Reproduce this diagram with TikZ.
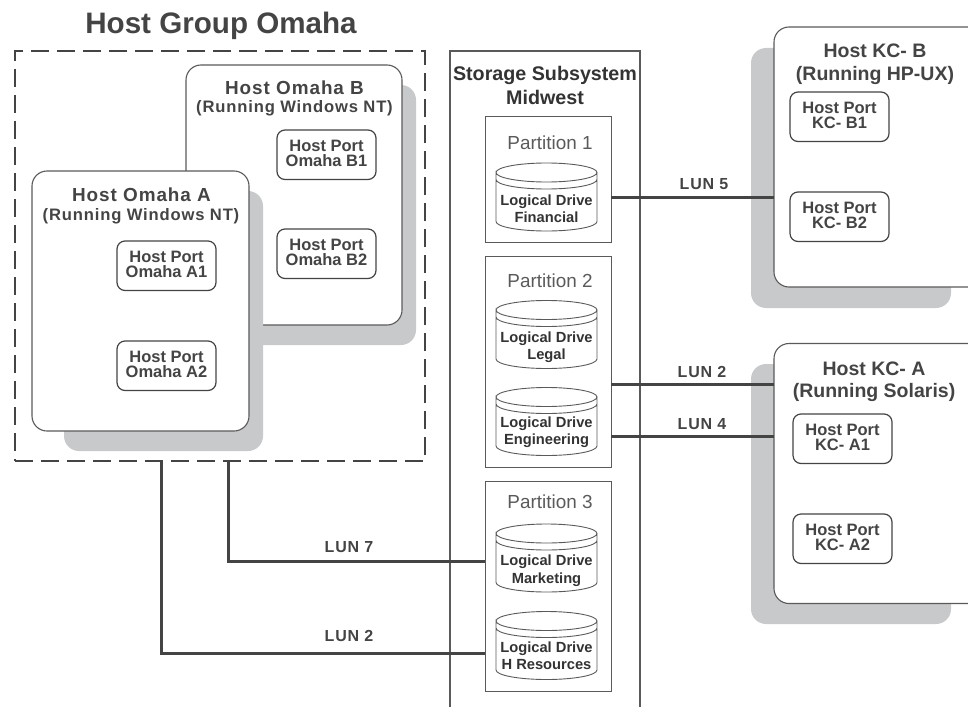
\documentclass[tikz,border=0pt]{standalone}
\usepackage{fontspec}
\setmainfont{Liberation Sans}
\newfontfamily\spacedfont[LetterSpace=5]{Liberation Sans}
\definecolor{inkgray}{HTML}{444444}
\definecolor{edgegray}{HTML}{5A5A5A}
\definecolor{shadowgray}{HTML}{C8C9CB}
\tikzset{
  every node/.style={inner sep=0pt,outer sep=0pt},
  hostbox/.style={draw=edgegray,line width=1.1pt,fill=white,rounded corners=15pt,minimum width=217pt,minimum height=260pt,anchor=north west},
  hostshadow/.style={fill=shadowgray,rounded corners=15pt,anchor=north west},
  portbox/.style={draw=inkgray,line width=1.2pt,fill=white,rounded corners=8pt,minimum width=99pt,minimum height=49.5pt,anchor=north west,align=center,text=inkgray,text depth=3pt,font=\bfseries\fontsize{16.5}{15}\selectfont},
  partbox/.style={draw=edgegray,line width=1pt,minimum width=126pt,anchor=north west},
  drivecyl/.style={minimum width=101pt,minimum height=68pt},
  drivering/.style={edgegray,line width=0.9pt},
  drivepath/.style={insert path={
    ([yshift=-9.5pt]#1.north west) arc[start angle=180,end angle=-180,x radius=50.5pt,y radius=9.5pt]
    -- ++(0,-49pt) arc[start angle=180,end angle=360,x radius=50.5pt,y radius=9.5pt] -- ++(0,49pt)
    ([yshift=-16.5pt]#1.north west) arc[start angle=180,end angle=360,x radius=50.5pt,y radius=9.5pt]}},
  drivetext/.style={align=center,text=black!80,font=\bfseries\fontsize{14.7}{17.5}\selectfont},
  parttext/.style={text=edgegray,font=\fontsize{18.9}{19}\selectfont},
  omahatext/.style={align=center,text=inkgray,font=\spacedfont\bfseries\fontsize{16.6}{20}\selectfont},
  omahaname/.style={text=inkgray,font=\spacedfont\bfseries\fontsize{18.9}{20}\selectfont},
  kctext/.style={align=center,text=inkgray,font=\bfseries\fontsize{19.5}{22.5}\selectfont},
  lunlabel/.style={text=inkgray,font=\spacedfont\bfseries\fontsize{16}{16}\selectfont},
  lunline/.style={draw=inkgray,line width=3pt},
}
\begin{document}
\begin{tikzpicture}[x=1pt,y=-1pt]
\useasboundingbox (0,0) rectangle (968,706);
\draw[](221,26) node[text=inkgray,font=\bfseries\fontsize{29.6}{30}\selectfont] (grouptitle) {Host Group Omaha};
\node[draw=inkgray,line width=2pt,dash pattern=on 18pt off 8pt,minimum width=410pt,minimum height=410pt,anchor=north west] (group) at (15,51) {};
\node[hostshadow,minimum width=216pt,minimum height=260pt] (omahabshadow) at (200,85) {};
\node[hostbox,minimum width=216pt] (omahab) at (186,65) {};
\node[hostshadow,minimum width=199pt,minimum height=260pt] (omahaashadow) at (64,191) {};
\node[hostbox] (omahaa) at (32,171) {};
\draw[](294.5,88) node[omahaname] (omahabname) {Host Omaha B};
\draw[](294.5,108) node[omahatext] (omahabrun) {(Running Windows NT)};
\draw[](141.5,195) node[omahaname] (omahaaname) {Host Omaha A};
\draw[](141,216) node[omahatext] (omahaarun) {(Running Windows NT)};
\node[portbox] (portbone) at (277,130) {Host Port\\Omaha B1};
\node[portbox] (portbtwo) at (277,229) {Host Port\\Omaha B2};
\node[portbox] (portaone) at (117,241) {Host Port\\Omaha A1};
\node[portbox] (portatwo) at (117,341) {Host Port\\Omaha A2};
\node[draw=edgegray,line width=1.4pt,minimum width=190pt,minimum height=700pt,anchor=north west] (storage) at (450,51) {};
\draw[](545,85) node[align=center,text=black!80,font=\bfseries\fontsize{19.7}{24}\selectfont] (storagename) {Storage Subsystem\\Midwest};
\node[partbox,minimum height=125pt] (partone) at (485,117) {};
\node[partbox,minimum height=211pt] (parttwo) at (485,256) {};
\node[partbox,minimum height=210pt] (partthree) at (485,481) {};
\draw[](550,143) node[parttext] (partonename) {Partition 1};
\draw[](550,281) node[parttext] (parttwoname) {Partition 2};
\draw[](550,502) node[parttext] (partthreename) {Partition 3};
\node[drivecyl] (financial) at (546.5,197) {};
\node[drivecyl] (legal) at (546.5,334.5) {};
\node[drivecyl] (engineering) at (546.5,421.5) {};
\node[drivecyl] (marketing) at (546.5,558) {};
\node[drivecyl] (resources) at (546.5,645.5) {};
\draw[drivering,drivepath=financial];
\draw[drivering,drivepath=legal];
\draw[drivering,drivepath=engineering];
\draw[drivering,drivepath=marketing];
\draw[drivering,drivepath=resources];
\draw[](546.5,208.5) node[drivetext] (financialname) {Logical Drive\\Financial};
\draw[](546.5,347) node[drivetext] (legalname) {Logical Drive\\Legal};
\draw[](546.5,432) node[drivetext] (engineeringname) {Logical Drive\\Engineering};
\draw[](546.5,570.5) node[drivetext] (marketingname) {Logical Drive\\Marketing};
\draw[](546.5,655.5) node[drivetext] (resourcesname) {Logical Drive\\H Resources};
\node[hostshadow,minimum width=200pt,minimum height=260pt] (kcbshadow) at (751,48) {};
\node[hostbox] (kcb) at (774,27) {};
\node[hostshadow,minimum width=200pt,minimum height=260pt] (kcashadow) at (751,364) {};
\node[hostbox] (kca) at (774,343.5) {};
\draw[](875,64.5) node[kctext] (kcbname) {Host KC- B\\(Running HP-UX)};
\draw[](874,382) node[kctext] (kcaname) {Host KC- A\\(Running Solaris)};
\node[portbox] (kcbone) at (790,92) {Host Port\\KC- B1};
\node[portbox] (kcbtwo) at (790,192) {Host Port\\KC- B2};
\node[portbox] (kcaone) at (793,414) {Host Port\\KC- A1};
\node[portbox] (kcatwo) at (793,514) {Host Port\\KC- A2};
\coordinate (lunfive) at (700,197);
\coordinate (luntwo) at (700,384);
\coordinate (lunfour) at (700,436);
\coordinate (lunseven) at (228,561);
\coordinate (lunother) at (161,653);
\draw[lunline] (partone.east |- lunfive) -- (kcb.west |- lunfive);
\draw[lunline] (parttwo.east |- luntwo) -- (kca.west |- luntwo);
\draw[lunline] (parttwo.east |- lunfour) -- (kca.west |- lunfour);
\draw[lunline] (lunseven |- group.south) -- (lunseven) -- (partthree.west |- lunseven);
\draw[lunline] (lunother |- group.south) -- (lunother) -- (partthree.west |- lunother);
\draw[](704,184) node[lunlabel] (lunfivename) {LUN 5};
\draw[](702,372) node[lunlabel] (luntwoname) {LUN 2};
\draw[](702,424) node[lunlabel] (lunfourname) {LUN 4};
\draw[](349,547) node[lunlabel] (lunsevenname) {LUN 7};
\draw[](349,636) node[lunlabel] (lunothername) {LUN 2};
\end{tikzpicture}
\end{document}
